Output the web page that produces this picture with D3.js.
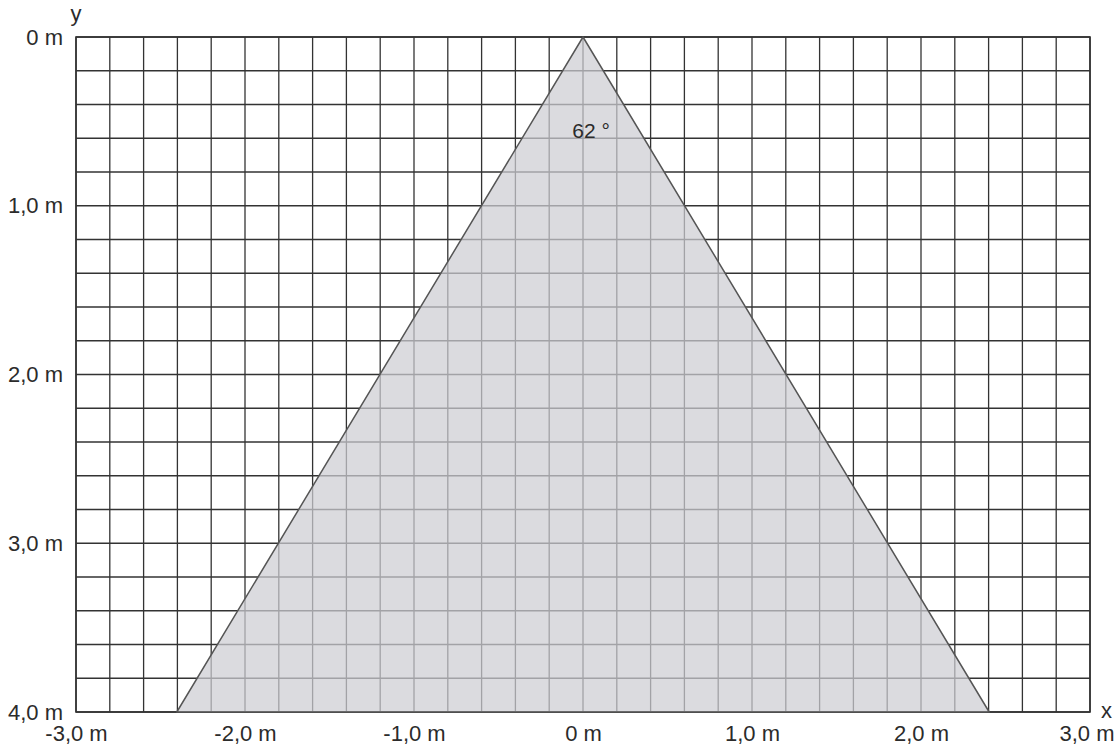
<!DOCTYPE html>
<html>
<head>
<meta charset="utf-8">
<script src="https://cdn.jsdelivr.net/npm/d3@7"></script>
<style>
  body { margin: 0; background: #fff; }
  svg text { font-family: 'Liberation Sans', Arial, sans-serif; fill: #2b2b2b; }
</style>
</head>
<body>
<div id="chart-area"></div>
<script>
// chart data
const xTicks = [-3, -2, -1, 0, 1, 2, 3];
const yTicks = [0, 1, 2, 3, 4];
const gridStep = 0.2;
const beamAngle = 62; // degrees, full opening
const beamApex = [0, 0];
const beamDepth = 4;

let width = 1115;
let height = 747;
let margin = { left: 76, right: 25, top: 37, bottom: 35 };

let x = d3.scaleLinear().domain([-3, 3]).range([margin.left, width - margin.right]);
let y = d3.scaleLinear().domain([0, 4]).range([margin.top, height - margin.bottom]);

let fmt = (d) => (d === 0 ? '0 m' : d.toFixed(1).replace('.', ',') + ' m');

let chart = d3
  .select('#chart-area')
  .append('svg')
  .attr('width', width)
  .attr('height', height);

//grid lines every 0.2 m
let xs = d3.range(0, 31).map((i) => -3 + i * gridStep);
let ys = d3.range(0, 21).map((i) => i * gridStep);

let grid = chart.append('g');
grid
  .selectAll('line.v')
  .data(xs)
  .enter()
  .append('line')
  .attr('x1', (d) => x(d))
  .attr('x2', (d) => x(d))
  .attr('y1', y(0))
  .attr('y2', y(4))
  .style('stroke', '#333')
  .style('stroke-width', 1.3);
grid
  .selectAll('line.h')
  .data(ys)
  .enter()
  .append('line')
  .attr('y1', (d) => y(d))
  .attr('y2', (d) => y(d))
  .attr('x1', x(-3))
  .attr('x2', x(3))
  .style('stroke', '#333')
  .style('stroke-width', 1.3);

chart
  .append('rect')
  .attr('x', x(-3))
  .attr('y', y(0))
  .attr('width', x(3) - x(-3))
  .attr('height', y(4) - y(0))
  .style('fill', 'none')
  .style('stroke', '#333')
  .style('stroke-width', 1.6);

//beam cone
let half = (beamAngle / 2) * (Math.PI / 180);
let spread = Math.tan(half) * beamDepth;
let cone = [
  [beamApex[0], beamApex[1]],
  [beamApex[0] + spread, beamDepth],
  [beamApex[0] - spread, beamDepth],
];
chart
  .append('path')
  .attr('d', d3.line().x((d) => x(d[0])).y((d) => y(d[1]))(cone) + 'Z')
  .style('fill', 'rgb(205,205,210)')
  .style('fill-opacity', 0.72)
  .style('stroke', '#555')
  .style('stroke-width', 1.5)
  .style('stroke-linejoin', 'round');

chart
  .append('text')
  .attr('x', x(0) + 8)
  .attr('y', y(0.6))
  .attr('text-anchor', 'middle')
  .style('font-size', '21px')
  .text(beamAngle + ' °');

//axis labels
let yAxis = chart
  .append('g')
  .attr('transform', `translate(${x(-3)},0)`)
  .call(d3.axisLeft(y).tickValues(yTicks).tickSize(0).tickPadding(13).tickFormat(fmt));
yAxis.select('.domain').remove();
yAxis.selectAll('text').style('font-size', '22px').style('font-family', null).attr('fill', null);

let xAxis = chart
  .append('g')
  .attr('transform', `translate(0,${y(4)})`)
  .call(d3.axisBottom(x).tickValues(xTicks).tickSize(0).tickPadding(13).tickFormat(fmt));
xAxis.select('.domain').remove();
xAxis.selectAll('text').style('font-size', '22px').style('font-family', null).attr('fill', null);

//last label would run off the page: pin its right end inside the edge
xAxis
  .selectAll('.tick')
  .filter((d) => d === 3)
  .select('text')
  .attr('text-anchor', 'end')
  .attr('x', width - x(3) - 1);

chart
  .append('text')
  .attr('x', x(-3))
  .attr('y', 21)
  .attr('text-anchor', 'middle')
  .style('font-size', '22px')
  .text('y');
chart
  .append('text')
  .attr('x', x(3) + 11)
  .attr('y', y(4) + 6)
  .style('font-size', '22px')
  .text('x');
</script>
</body>
</html>
